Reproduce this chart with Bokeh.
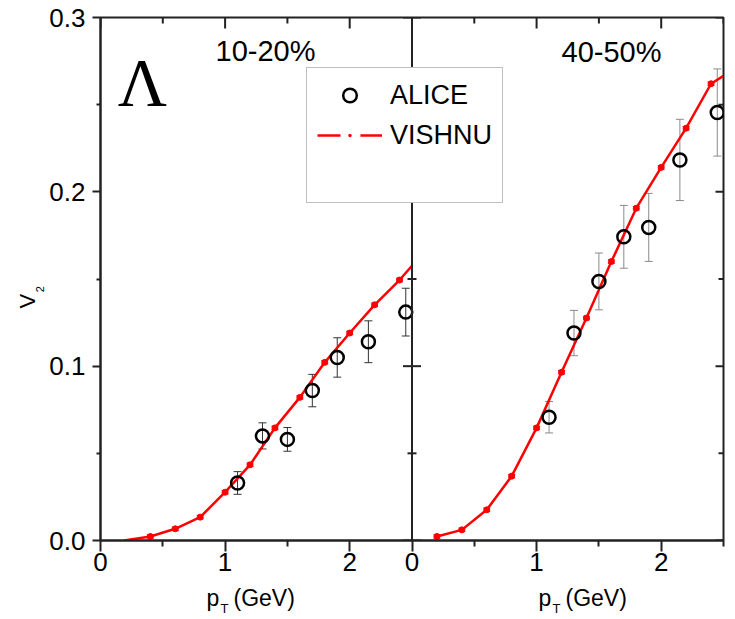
from math import pi
from bokeh.plotting import figure
from bokeh.layouts import row, column
from bokeh.models import (Range1d, LinearAxis, FixedTicker, PrintfTickFormatter,
                          Whisker, TeeHead, ColumnDataSource, Span, Label,
                          Legend, LegendItem)
from bokeh.embed import file_html
from bokeh.resources import INLINE

# ---------------- data ----------------
PT_MAX = 2.5
V2_MAX = 0.3
pt_major = [0, 1, 2]
pt_minor = [0.5, 1.5, 2.5]
v2_major = [0.0, 0.1, 0.2, 0.3]
v2_minor = [0.05, 0.15, 0.25]
centrality = ["10-20%", "40-50%"]

# ALICE, 10-20%
alice_pt_1020 = [1.1, 1.3, 1.5, 1.7, 1.9, 2.15, 2.45]
alice_v2_1020 = [0.033, 0.060, 0.058, 0.086, 0.105, 0.114, 0.131]
alice_err_1020 = [0.0065, 0.0075, 0.0068, 0.0093, 0.0113, 0.0120, 0.0137]

# ALICE, 40-50%
alice_pt_4050 = [1.1, 1.3, 1.5, 1.7, 1.9, 2.15, 2.45]
alice_v2_4050 = [0.0707, 0.119, 0.1486, 0.1742, 0.1796, 0.2183, 0.2455]
alice_err_4050 = [0.0090, 0.0130, 0.0163, 0.0180, 0.0195, 0.0233, 0.0250]

# VISHNU, 10-20%
vishnu_pt_1020 = [0.4, 0.6, 0.8, 1.0, 1.2, 1.4, 1.6, 1.8, 2.0, 2.2, 2.4]
vishnu_v2_1020 = [0.0023, 0.0067, 0.0134, 0.0277, 0.0434, 0.0646, 0.0821,
                  0.1022, 0.1190, 0.1352, 0.1494]
vishnu_err_1020 = [0.001, 0.001, 0.001, 0.001, 0.001, 0.001, 0.001,
                   0.001, 0.001, 0.001, 0.001]
vishnu_start_1020 = [0.19, 0.0]     # where the curve leaves the axis
vishnu_end_1020 = [2.5, 0.1576]     # where the curve meets the panel edge

# VISHNU, 40-50%
vishnu_pt_4050 = [0.2, 0.4, 0.6, 0.8, 1.0, 1.2, 1.4, 1.6, 1.8, 2.0, 2.2, 2.4]
vishnu_v2_4050 = [0.0023, 0.0061, 0.0176, 0.0369, 0.0646, 0.0965, 0.1276,
                  0.1600, 0.1906, 0.2140, 0.2365, 0.2620]
vishnu_err_4050 = [0.001, 0.001, 0.001, 0.001, 0.001, 0.001, 0.001,
                   0.001, 0.001, 0.001, 0.001, 0.001]
vishnu_end_4050 = [2.5, 0.2665]

# ---------------- styles ----------------
FONT = "Liberation Sans"
AX = "#222222"
RED = "#ff0000"
BASE = 0.38   # Bokeh's alphabetic-baseline offset, in em

LEFT_W = 45
MAIN_W = 735 - LEFT_W
MAIN_H = 585
TOTAL_H = 619
FRAME_L = 100   # canvas x of the plot frame's left edge

p = figure(width=MAIN_W, height=MAIN_H, output_backend="svg", toolbar_location=None,
           title=None, x_axis_type=None, y_axis_type=None,
           x_range=Range1d(0, 2 * PT_MAX), y_range=Range1d(0, V2_MAX),
           min_border_left=FRAME_L - LEFT_W, min_border_right=12,
           min_border_top=17, min_border_bottom=45)
p.extra_x_ranges = {"r4050": Range1d(-PT_MAX, PT_MAX)}
p.grid.visible = False
p.outline_line_color = AX
p.outline_line_width = 2
p.background_fill_color = "white"
p.border_fill_color = "white"

# ---------------- axes ----------------
x_ticks = list(pt_major) + [t + PT_MAX for t in pt_major]
x_minor = [m for m in pt_minor if m < PT_MAX] + [m + PT_MAX for m in pt_minor]
x_labels = {}
for t in pt_major:
    x_labels[t] = str(t)
    x_labels[t + PT_MAX] = str(t)


def style_axis(ax, tout, mtout, standoff):
    ax.axis_line_color = AX
    ax.axis_line_width = 2
    ax.major_tick_line_color = AX
    ax.major_tick_line_width = 2
    ax.minor_tick_line_color = AX
    ax.minor_tick_line_width = 2
    ax.major_tick_in = 0
    ax.major_tick_out = tout
    ax.minor_tick_in = 0
    ax.minor_tick_out = mtout
    ax.major_label_standoff = standoff
    ax.major_label_text_font = FONT
    ax.major_label_text_color = "black"
    ax.major_label_text_font_size = "26px"


xb = LinearAxis(ticker=FixedTicker(ticks=x_ticks, minor_ticks=x_minor),
                major_label_overrides=x_labels)
style_axis(xb, 11, 6, 1)
p.add_layout(xb, "below")

yl = LinearAxis(ticker=FixedTicker(ticks=v2_major, minor_ticks=v2_minor),
                formatter=PrintfTickFormatter(format="%.1f"))
style_axis(yl, 8, 4, 7)
p.add_layout(yl, "left")

# inward ticks on the top edge of both panels (outer halves are clipped by the frame)
for rng in (None, "r4050"):
    kw = {} if rng is None else {"x_range_name": rng}
    p.scatter(x=pt_major, y=[V2_MAX] * len(pt_major), marker="dash", angle=pi / 2,
              size=22, line_color=AX, line_width=2, **kw)
    p.scatter(x=pt_minor, y=[V2_MAX] * len(pt_minor), marker="dash", angle=pi / 2,
              size=12, line_color=AX, line_width=2, **kw)

# inward ticks on the right edge
p.scatter(x=[PT_MAX] * len(v2_major), y=v2_major, marker="dash", size=16,
          line_color=AX, line_width=2, x_range_name="r4050")
p.scatter(x=[PT_MAX] * len(v2_minor), y=v2_minor, marker="dash", size=10,
          line_color=AX, line_width=2, x_range_name="r4050")

# boundary between the two panels with ticks on both sides
p.add_layout(Span(location=PT_MAX, dimension="height", line_color=AX, line_width=2))
p.scatter(x=[PT_MAX] * len(v2_major), y=v2_major, marker="dash", size=18,
          line_color=AX, line_width=2)
p.scatter(x=[PT_MAX] * len(v2_minor), y=v2_minor, marker="dash", size=9,
          line_color=AX, line_width=2)


# ---------------- panels ----------------
def draw_panel(rng, a_pt, a_v2, a_err, a_col, m_pt, m_v2, m_err, c_pt, c_v2):
    kw = {} if rng is None else {"x_range_name": rng}
    a_src = ColumnDataSource(dict(
        x=a_pt, y=a_v2,
        lo=[v - e for v, e in zip(a_v2, a_err)],
        hi=[v + e for v, e in zip(a_v2, a_err)]))
    p.add_layout(Whisker(base="x", lower="lo", upper="hi", source=a_src,
                         dimension="height", line_color=a_col, line_width=1,
                         level="underlay",
                         upper_head=TeeHead(size=8, line_color=a_col, line_width=1),
                         lower_head=TeeHead(size=8, line_color=a_col, line_width=1),
                         **kw))
    m_src = ColumnDataSource(dict(
        x=m_pt, y=m_v2,
        lo=[v - e for v, e in zip(m_v2, m_err)],
        hi=[v + e for v, e in zip(m_v2, m_err)]))
    p.add_layout(Whisker(base="x", lower="lo", upper="hi", source=m_src,
                         dimension="height", line_color=RED, line_width=1,
                         level="underlay",
                         upper_head=TeeHead(size=7, line_color=RED, line_width=1),
                         lower_head=TeeHead(size=7, line_color=RED, line_width=1),
                         **kw))
    p.line(c_pt, c_v2, line_color=RED, line_width=2.5, **kw)
    p.scatter("x", "y", source=m_src, marker="circle", size=6,
              fill_color=RED, line_color=RED, **kw)
    r = p.scatter("x", "y", source=a_src, marker="circle", size=13,
                  fill_alpha=0, line_color="black", line_width=2.5, **kw)
    return r, m_src


curve_pt_1020 = [vishnu_start_1020[0]] + vishnu_pt_1020 + [vishnu_end_1020[0]]
curve_v2_1020 = [vishnu_start_1020[1]] + vishnu_v2_1020 + [vishnu_end_1020[1]]
r_alice, m_src_1020 = draw_panel(None, alice_pt_1020, alice_v2_1020, alice_err_1020,
                                 "#333333", vishnu_pt_1020, vishnu_v2_1020,
                                 vishnu_err_1020, curve_pt_1020, curve_v2_1020)

curve_pt_4050 = vishnu_pt_4050 + [vishnu_end_4050[0]]
curve_v2_4050 = vishnu_v2_4050 + [vishnu_end_4050[1]]
draw_panel("r4050", alice_pt_4050, alice_v2_4050, alice_err_4050, "#8a8a8a",
           vishnu_pt_4050, vishnu_v2_4050, vishnu_err_4050,
           curve_pt_4050, curve_v2_4050)


# ---------------- texts ----------------
def lab(fig, text, x, y, size, font=FONT, align="left", angle=0):
    px = float(size.replace("px", ""))
    if angle == 0:
        y = y + BASE * px
    else:
        x = x - BASE * px
    fig.add_layout(Label(x=x, y=y, x_units="screen", y_units="screen", text=text,
                         text_font=font, text_font_size=size, text_color="black",
                         text_align=align, text_baseline="alphabetic", angle=angle))


# inside the main frame (x from frame left, y from frame bottom at canvas y=540)
lab(p, centrality[0], 165, 540 - 62, "29px", align="center")
lab(p, centrality[1], 511, 540 - 63, "29px", align="center")
lab(p, "\u039b", 42, 540 - 107, "68px", font="Liberation Serif", align="center")

# left strip: y-axis title V_2
left = figure(width=LEFT_W, height=TOTAL_H, output_backend="svg",
              toolbar_location=None, title=None, x_axis_type=None, y_axis_type=None,
              x_range=Range1d(0, 1), y_range=Range1d(0, 1), min_border=0)
left.outline_line_color = None
left.grid.visible = False
lab(left, "V", 35, TOTAL_H - 300.7, "22px", align="center", angle=pi / 2)
lab(left, "2", 43.5, TOTAL_H - 288.7, "11px", align="center", angle=pi / 2)

# bottom strip: x-axis titles p_T (GeV); its frame is aligned with the main frame
BOT_H = TOTAL_H - MAIN_H
bottom = figure(width=MAIN_W, height=BOT_H, output_backend="svg",
                toolbar_location=None, title=None, x_axis_type=None, y_axis_type=None,
                x_range=Range1d(0, 1), y_range=Range1d(0, 1), min_border=0)
bottom.outline_line_color = None
bottom.grid.visible = False
for xc in (206, 538):
    x0 = xc - FRAME_L
    lab(bottom, "p", x0, TOTAL_H - 606, "23px")
    lab(bottom, "T", x0 + 14, TOTAL_H - 613, "13px")
    lab(bottom, "(GeV)", x0 + 27, TOTAL_H - 606, "23px")

# ---------------- legend ----------------
leg_line = p.line("x", "y", source=m_src_1020, line_color=RED, line_width=2.5,
                  line_dash="23 20", visible=False)
leg_dot = p.scatter("x", "y", source=m_src_1020, marker="dot", line_color=RED,
                    fill_color=RED, visible=False)
leg_blank = p.scatter(x=[], y=[], marker="circle", fill_alpha=0, line_alpha=0)
legend = Legend(items=[LegendItem(label="ALICE", renderers=[r_alice]),
                       LegendItem(label="VISHNU", renderers=[leg_line, leg_dot]),
                       LegendItem(label=" ", renderers=[leg_blank])],
                location=(206, 337), margin=0, padding=10, spacing=6,
                glyph_width=65, glyph_height=34, label_standoff=8,
                label_text_font=FONT, label_text_font_size="27px",
                label_text_color="black",
                border_line_color="#7f7f7f", border_line_width=1,
                background_fill_color="white", background_fill_alpha=1)
p.add_layout(legend)

layout = row(left, column(p, bottom))
open("out.html", "w").write(file_html(layout, INLINE))
